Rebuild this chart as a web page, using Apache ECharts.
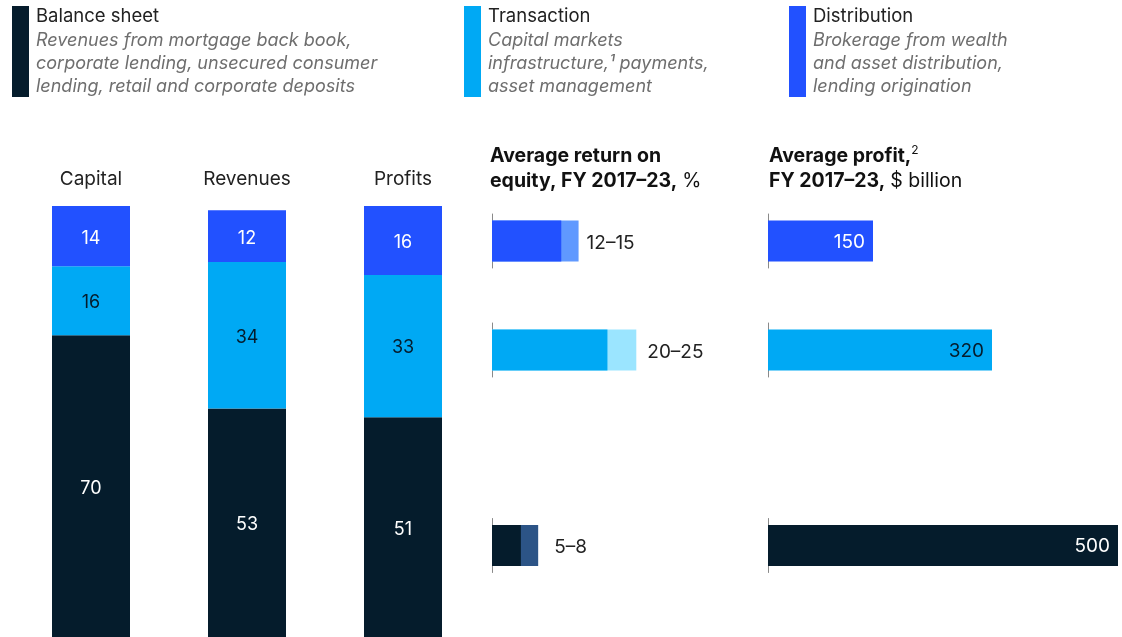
<!DOCTYPE html>
<html>
<head>
<meta charset="utf-8">
<script src="https://cdn.jsdelivr.net/npm/echarts@6/dist/echarts.min.js"></script>
<style>
  html, body { margin: 0; padding: 0; background: #fff; }
  #chart { width: 1122px; height: 637px; }
</style>
</head>
<body>
<div id="chart"></div>
<script>
var FONT = 'Inter, "Liberation Sans", sans-serif';

// stacked share bars, %
var columns = ['Capital', 'Revenues', 'Profits'];
var balanceShare = [70, 53, 51];
var transactionShare = [16, 34, 33];
var distributionShare = [14, 12, 16];

// rows on the right: distribution, transaction, balance sheet
var segments = ['Distribution', 'Transaction', 'Balance sheet'];
var roeLow = [12, 20, 5];
var roeHigh = [15, 25, 8];
var avgProfit = [150, 320, 500];

var legendTitles = ['Balance sheet', 'Transaction', 'Distribution'];
var legendNotes = [
  'Revenues from mortgage back book,\ncorporate lending, unsecured consumer\nlending, retail and corporate deposits',
  'Capital markets\ninfrastructure,\u00b9 payments,\nasset management',
  'Brokerage from wealth\nand asset distribution,\nlending origination'
];

var DARK = '#051C2C', CYAN = '#00A9F4', BLUE = '#2251FF';
var rowColor = [BLUE, CYAN, DARK];
var rowLight = ['#6099FF', '#9BE5FF', '#2C5486'];
var rowLabelColor = ['#fff', DARK, '#fff'];
var legendColor = [DARK, CYAN, BLUE];
var legendX = [12, 464, 789];
var rowTop = [214, 323, 518.5];
var roeLabelGap = [8, 11, 16];

var myChart = echarts.init(document.getElementById('chart'));

var grids = [{left: 13, width: 468, top: 206, bottom: 0}];
var xAxes = [{
  type: 'category', data: columns, position: 'top', gridIndex: 0,
  axisLine: {show: false}, axisTick: {show: false},
  axisLabel: {fontFamily: FONT, fontSize: 19, color: '#222', margin: 17}
}];
var yAxes = [{type: 'value', min: 0, max: 100, show: false, gridIndex: 0}];

function stackLabel(color) {
  return {show: true, position: 'inside', offset: [0, 2], color: color, fontFamily: FONT, fontSize: 18};
}

var series = [
  {name: 'Balance sheet', type: 'bar', stack: 'share', data: balanceShare, barWidth: 78,
   itemStyle: {color: DARK}, label: stackLabel('#fff')},
  {name: 'Transaction', type: 'bar', stack: 'share', data: transactionShare, barWidth: 78,
   itemStyle: {color: CYAN}, label: stackLabel(DARK)},
  {name: 'Distribution', type: 'bar', stack: 'share', data: distributionShare, barWidth: 78,
   itemStyle: {color: BLUE}, label: stackLabel('#fff')}
];

var axisLineStyle = {show: true, lineStyle: {color: '#8a8a8a', width: 1}};

// ROE rows
for (var i = 0; i < segments.length; i++) {
  var g = grids.length;
  grids.push({left: 492, width: 144.3, top: rowTop[i], height: 54});
  xAxes.push({type: 'value', min: 0, max: 25, show: false, gridIndex: g});
  yAxes.push({type: 'category', data: [segments[i]], gridIndex: g,
    axisLine: axisLineStyle, axisTick: {show: false}, axisLabel: {show: false}});
  (function (k) {
    series.push({type: 'bar', xAxisIndex: g, yAxisIndex: g, data: [roeHigh[k]], barWidth: 41,
      itemStyle: {color: rowLight[k]},
      label: {show: true, position: 'right', distance: roeLabelGap[k], offset: [0, 2], color: '#222',
        fontFamily: FONT, fontSize: 19,
        formatter: function () { return roeLow[k] + '\u2013' + roeHigh[k]; }}});
    series.push({type: 'bar', xAxisIndex: g, yAxisIndex: g, data: [roeLow[k]], barWidth: 41,
      barGap: '-100%', itemStyle: {color: rowColor[k]}});
  })(i);
}

// average profit rows
for (var j = 0; j < segments.length; j++) {
  var h = grids.length;
  grids.push({left: 768, width: 350, top: rowTop[j], height: 54});
  xAxes.push({type: 'value', min: 0, max: 500, show: false, gridIndex: h});
  yAxes.push({type: 'category', data: [segments[j]], gridIndex: h,
    axisLine: axisLineStyle, axisTick: {show: false}, axisLabel: {show: false}});
  series.push({type: 'bar', xAxisIndex: h, yAxisIndex: h, data: [avgProfit[j]], barWidth: 41,
    itemStyle: {color: rowColor[j]},
    label: {show: true, position: 'insideRight', distance: 8, offset: [0, 1], color: rowLabelColor[j],
      fontFamily: FONT, fontSize: 19}});
}

// legend blocks
var graphics = [];
for (var n = 0; n < legendTitles.length; n++) {
  graphics.push({type: 'rect', left: legendX[n], top: 6, shape: {width: 17, height: 91},
    style: {fill: legendColor[n]}});
  graphics.push({type: 'text', left: legendX[n] + 24, top: 7,
    style: {text: legendTitles[n], fill: '#222', font: '18.5px ' + FONT}});
  graphics.push({type: 'text', left: legendX[n] + 24, top: 29,
    style: {text: legendNotes[n], fill: '#6e6e6e', font: 'italic 18px ' + FONT, lineHeight: 23}});
}

var titleRich = {
  b: {fontFamily: FONT, fontSize: 19.5, fontWeight: 'bold', color: '#111', lineHeight: 25},
  r: {fontFamily: FONT, fontSize: 19.5, fontWeight: 'normal', color: '#111', lineHeight: 25},
  s: {fontFamily: FONT, fontSize: 12, fontWeight: 'normal', color: '#111', verticalAlign: 'top', lineHeight: 25}
};

var option = {
  animation: false,
  backgroundColor: '#fff',
  title: [
    {left: 490, top: 144, padding: 0, text: '{b|Average return on}\n{b|equity, FY 2017\u201323,} {r|%}',
     textStyle: {rich: titleRich}},
    {left: 769, top: 144, padding: 0, text: '{b|Average profit,}{s|2}\n{b|FY 2017\u201323,} {r|$ billion}',
     textStyle: {rich: titleRich}}
  ],
  grid: grids,
  xAxis: xAxes,
  yAxis: yAxes,
  series: series,
  graphic: graphics
};
myChart.setOption(option);
</script>
</body>
</html>
